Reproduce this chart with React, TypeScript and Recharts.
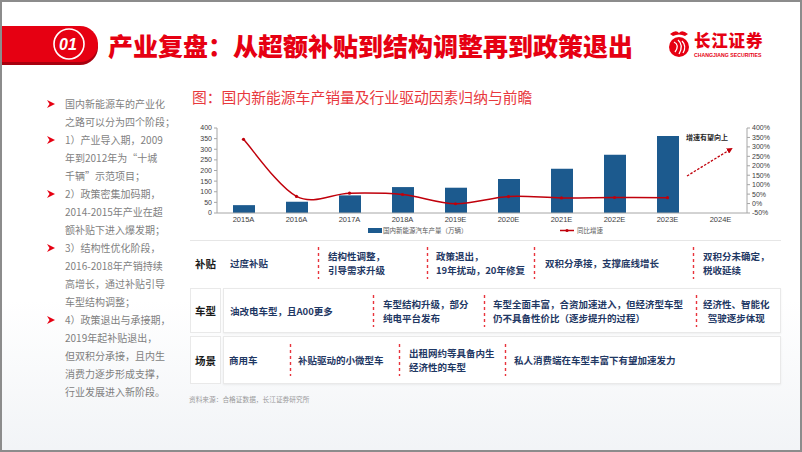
import React from 'react';
import { ComposedChart, Bar, Line, XAxis, YAxis, Legend } from 'recharts';

// ---------- data ----------
const categories = ['2015A', '2016A', '2017A', '2018A', '2019E', '2020E', '2021E', '2022E', '2023E', '2024E'];
const production = [37, 53, 83, 122, 119, 160, 208, 274, 362, null];
const growth = [340, 38, 55, 48, -1, 37, 30, 32, 31, null];
const leftTicks = [0, 50, 100, 150, 200, 250, 300, 350, 400];
const rightTicks = [-50, 0, 50, 100, 150, 200, 250, 300, 350, 400];
const seriesNames = ['国内新能源汽车产量（万辆）', '同比增速'];

const titleText = '产业复盘：从超额补贴到结构调整再到政策退出';
const subtitleText = '图：国内新能源车产销量及行业驱动因素归纳与前瞻';
const annotationText = '增速有望向上';
const sourceText = '资料来源：合格证数据，长江证券研究所';

const bullets = [
  ['国内新能源车的产业化', '之路可以分为四个阶段；'],
  ['1）产业导入期，2009', '年到2012年为“十城', '千辆”示范项目；'],
  ['2）政策密集加码期，', '2014-2015年产业在超', '额补贴下进入爆发期；'],
  ['3）结构性优化阶段，', '2016-2018年产销持续', '高增长，通过补贴引导', '车型结构调整；'],
  ['4）政策退出与承接期，', '2019年起补贴退出，', '但双积分承接，且内生', '消费力逐步形成支撑，', '行业发展进入新阶段。'],
];

const rowLabels = ['补贴', '车型', '场景'];
const subsidyCells = [['过度补贴'], ['结构性调整，', '引导需求升级'], ['政策退出，', '19年扰动，20年修复'], ['双积分承接，支撑底线增长'], ['双积分未确定，', '税收延续']];
const modelCells = [['油改电车型，且A00更多'], ['车型结构升级，部分', '纯电平台发布'], ['车型全面丰富，合资加速进入，但经济型车型', '仍不具备性价比（逐步提升的过程）'], ['经济性、智能化', '驾驶逐步体现']];
const sceneCells = [['商用车'], ['补贴驱动的小微型车'], ['出租网约等具备内生', '经济性的车型'], ['私人消费端在车型丰富下有望加速发力']];

// ---------- layout ----------
const rowsLayout = [
  { top: 240, height: 46, cells: subsidyCells, xs: [230, 328, 436, 545, 703], seps: [318, 427, 534, 693], center: [false, false, false, false, false], box: false },
  { top: 288, height: 45, cells: modelCells, xs: [230, 383, 493, 703], seps: [373, 484, 696], center: [false, false, false, true], box: true },
  { top: 336, height: 48, cells: sceneCells, xs: [229, 298, 409, 514], seps: [290, 399, 505], center: [false, false, false, false], box: true },
];

const chartData = categories.map((c, i) => ({ cat: c, production: production[i], growth: growth[i] }));

const RED = '#e60012';
const BAR = '#1c5a8e';
const LINE = '#c0000b';
const CJK = '"Noto Sans CJK SC", "Noto Sans", sans-serif';
const LAT = '"Liberation Sans", Arial, sans-serif';

// Excel-like smoothed curve (Catmull-Rom style Bezier)
const smoothCurve: any = (context: any) => {
  let pts: number[][] = [];
  return {
    areaStart() {},
    areaEnd() {},
    lineStart() {
      pts = [];
    },
    point(x: number, y: number) {
      pts.push([+x, +y]);
    },
    lineEnd() {
      const n = pts.length;
      if (!n) return;
      context.moveTo(pts[0][0], pts[0][1]);
      for (let i = 0; i < n - 1; i++) {
        const p0 = pts[Math.max(i - 1, 0)];
        const p1 = pts[i];
        const p2 = pts[i + 1];
        const p3 = pts[Math.min(i + 2, n - 1)];
        const c1x = p1[0] + (p2[0] - p0[0]) / 6;
        const c1y = p1[1] + (p2[1] - p0[1]) / 6;
        const c2x = p2[0] - (p3[0] - p1[0]) / 6;
        const c2y = p2[1] - (p3[1] - p1[1]) / 6;
        context.bezierCurveTo(c1x, c1y, c2x, c2y, p2[0], p2[1]);
      }
    },
  };
};

const LegendContent = () => (
  <div style={{ position: 'relative', width: 802, height: 12, fontFamily: CJK, fontSize: 6.5, color: '#595959' }}>
    <div style={{ position: 'absolute', left: 368, top: 3, width: 14, height: 5, background: BAR }} />
    <div style={{ position: 'absolute', left: 383, top: 0, lineHeight: '11px', whiteSpace: 'nowrap' }}>{seriesNames[0]}</div>
    <svg style={{ position: 'absolute', left: 560, top: 0 }} width={16} height={11}>
      <line x1={0} y1={5.5} x2={14} y2={5.5} stroke={LINE} strokeWidth={1.5} />
      <circle cx={7} cy={5.5} r={1.6} fill={LINE} />
    </svg>
    <div style={{ position: 'absolute', left: 577, top: 0, lineHeight: '11px', whiteSpace: 'nowrap' }}>{seriesNames[1]}</div>
  </div>
);

function Chart() {
  return (
    <ComposedChart
      width={802}
      height={240}
      data={chartData}
      margin={{ top: 128, right: 15, bottom: 11, left: 187 }}
      barCategoryGap={0}
    >
      <XAxis
        dataKey="cat"
        interval={0}
        tickLine={false}
        tickSize={2}
        tickMargin={2}
        height={16}
        axisLine={{ stroke: '#a6a6a6' }}
        tick={{ fontSize: 7.5, fill: '#404040', fontFamily: LAT }}
      />
      <YAxis
        yAxisId="left"
        orientation="left"
        width={30}
        domain={[0, 400]}
        ticks={leftTicks}
        interval={0}
        tickSize={3}
        tickMargin={2}
        axisLine={{ stroke: '#a6a6a6' }}
        tickLine={{ stroke: '#a6a6a6' }}
        tick={{ fontSize: 7, fill: '#404040', fontFamily: LAT }}
      />
      <YAxis
        yAxisId="right"
        orientation="right"
        width={40}
        domain={[-50, 400]}
        ticks={rightTicks}
        interval={0}
        tickSize={3}
        tickMargin={2}
        tickFormatter={(v: number) => `${v}%`}
        axisLine={{ stroke: '#a6a6a6' }}
        tickLine={{ stroke: '#a6a6a6' }}
        tick={{ fontSize: 7, fill: '#404040', fontFamily: LAT }}
      />
      <Legend
        layout="horizontal"
        verticalAlign="middle"
        align="center"
        wrapperStyle={{ left: 0, top: 225, width: 802 }}
        content={() => <LegendContent />}
      />
      <Bar yAxisId="left" dataKey="production" name={seriesNames[0]} fill={BAR} barSize={22} isAnimationActive={false} />
      <Line
        yAxisId="right"
        dataKey="growth"
        name={seriesNames[1]}
        type={smoothCurve}
        stroke={LINE}
        strokeWidth={1.5}
        dot={{ r: 1.6, fill: LINE, stroke: LINE, strokeWidth: 0 }}
        activeDot={false}
        isAnimationActive={false}
      />
    </ComposedChart>
  );
}

function Separator({ x, top, height }: { x: number; top: number; height: number }) {
  return (
    <svg style={{ position: 'absolute', left: x - 1, top: top + (height - 32) / 2 }} width={3} height={32}>
      <line x1={1.5} y1={0} x2={1.5} y2={32} stroke="#e8343c" strokeWidth={1.4} strokeDasharray="3 3" />
    </svg>
  );
}

export default function App() {
  let lineIdx = 0;
  return (
    <div style={{ position: 'fixed', left: 0, top: 0, width: 802, height: 452, background: '#ffffff', overflow: 'hidden', fontFamily: CJK }}>
      {/* faint bottom background */}
      <div style={{ position: 'absolute', left: 0, top: 300, width: 802, height: 152, background: 'linear-gradient(180deg, rgba(255,255,255,0) 0%, rgba(236,239,243,0.7) 100%)' }} />

      {/* header banner */}
      <svg style={{ position: 'absolute', left: 0, top: 0 }} width={110} height={80}>
        <path d="M0 29 H80 A18 18 0 0 1 80 65 H0 Z" fill="#a8000e" />
        <path d="M0 26 H80 A18 18 0 0 1 80 62 H0 Z" fill={RED} />
        <circle cx={69} cy={44} r={15} fill="none" stroke="#ffffff" strokeWidth={1.6} />
        <text x={68} y={50} textAnchor="middle" fill="#ffffff" fontSize={16} fontStyle="italic" fontWeight="bold" fontFamily={LAT}>01</text>
      </svg>
      <div style={{ position: 'absolute', left: 108, top: 31, fontSize: 25, lineHeight: '28px', fontWeight: 900, color: RED, whiteSpace: 'nowrap' }}>{titleText}</div>

      {/* logo */}
      <svg style={{ position: 'absolute', left: 666, top: 28 }} width={26} height={32}>
        <path d="M4 6 Q10 1 13 5 Q16 1 22 6 L19 8 Q13 5 7 8 Z" fill={RED} />
        <circle cx={13} cy={19} r={10} fill={RED} />
        <path d="M8 14 Q14 17 9 24 M12 12 Q18 17 13 26 M16 13 Q21 18 17 25" stroke="#ffffff" strokeWidth={1.3} fill="none" />
      </svg>
      <div style={{ position: 'absolute', left: 694, top: 31, fontSize: 16.5, lineHeight: '18px', fontWeight: 900, color: RED, whiteSpace: 'nowrap', letterSpacing: 0.8 }}>长江证券</div>
      <div style={{ position: 'absolute', left: 694, top: 51.5, fontSize: 5.2, lineHeight: '6px', fontWeight: 700, color: RED, whiteSpace: 'nowrap', fontFamily: LAT }}>CHANGJIANG SECURITIES</div>

      {/* left bullets */}
      {bullets.map((b, bi) => {
        const start = lineIdx;
        lineIdx += b.length;
        return (
          <React.Fragment key={bi}>
            <svg style={{ position: 'absolute', left: 47, top: 95 + start * 18 + 5 }} width={9} height={8}>
              <path d="M0 0 L8 4 L0 8 L2.5 4 Z" fill={RED} />
            </svg>
            {b.map((t, ti) => (
              <div key={ti} style={{ position: 'absolute', left: 65, top: 95 + (start + ti) * 18, fontSize: 10, lineHeight: '18px', color: '#7f7f7f', whiteSpace: 'nowrap' }}>{t}</div>
            ))}
          </React.Fragment>
        );
      })}

      {/* subtitle */}
      <div style={{ position: 'absolute', left: 192, top: 88, fontSize: 14.8, lineHeight: '18px', color: '#e8383d', whiteSpace: 'nowrap' }}>{subtitleText}</div>

      {/* chart */}
      <div style={{ position: 'absolute', left: 0, top: 0, width: 802, height: 240 }}>
        <Chart />
      </div>

      {/* annotation */}
      <div style={{ position: 'absolute', left: 686, top: 132, fontSize: 7, lineHeight: '10px', color: '#262626', fontWeight: 700, whiteSpace: 'nowrap' }}>{annotationText}</div>
      <svg style={{ position: 'absolute', left: 680, top: 140 }} width={60} height={42}>
        <defs>
          <marker id="ah" markerWidth="6" markerHeight="6" refX="4" refY="3" orient="auto" markerUnits="userSpaceOnUse">
            <path d="M0 0 L6 3 L0 6 Z" fill={LINE} />
          </marker>
        </defs>
        <line x1={7} y1={36} x2={51} y2={9} stroke={LINE} strokeWidth={1.3} strokeDasharray="2.5 1.5" markerEnd="url(#ah)" />
      </svg>

      {/* table */}
      {rowsLayout.map((r, ri) => (
        <React.Fragment key={ri}>
          {r.box ? (
            <>
              <div style={{ position: 'absolute', left: 190, top: r.top, width: 31, height: r.height, background: '#fff', border: '1px solid #e9e9e9', boxSizing: 'border-box' }} />
              <div style={{ position: 'absolute', left: 223, top: r.top, width: 558, height: r.height, background: '#fff', border: '1px solid #e9e9e9', boxSizing: 'border-box', boxShadow: '0 1px 2px rgba(0,0,0,0.06)' }} />
            </>
          ) : (
            <div style={{ position: 'absolute', left: 190, top: r.top, width: 591, height: 1, background: '#e6e6e6' }} />
          )}
          <div style={{ position: 'absolute', left: 195, top: r.top, height: r.height, display: 'flex', alignItems: 'center', fontSize: 10.5, fontWeight: 700, color: '#1a1a1a' }}>{rowLabels[ri]}</div>
          {r.cells.map((lines, ci) => (
            <div
              key={ci}
              style={{
                position: 'absolute',
                left: r.xs[ci],
                top: r.top,
                height: r.height,
                display: 'flex',
                flexDirection: 'column',
                justifyContent: 'center',
                alignItems: r.center[ci] ? 'center' : 'flex-start',
                fontSize: 9.5,
                lineHeight: '14px',
                fontWeight: 700,
                color: '#1f3864',
                whiteSpace: 'nowrap',
              }}
            >
              {lines.map((t, k) => (
                <div key={k}>{t}</div>
              ))}
            </div>
          ))}
          {r.seps.map((x, si) => (
            <Separator key={si} x={x} top={r.top} height={r.height} />
          ))}
        </React.Fragment>
      ))}

      {/* source */}
      <div style={{ position: 'absolute', left: 189, top: 394, fontSize: 6.7, lineHeight: '10px', color: '#9a9a9a', whiteSpace: 'nowrap' }}>{sourceText}</div>

      {/* slide border */}
      <div style={{ position: 'absolute', left: 0, top: 0, width: 802, height: 452, border: '2px solid #8c8c8c', boxSizing: 'border-box', pointerEvents: 'none' }} />
    </div>
  );
}
